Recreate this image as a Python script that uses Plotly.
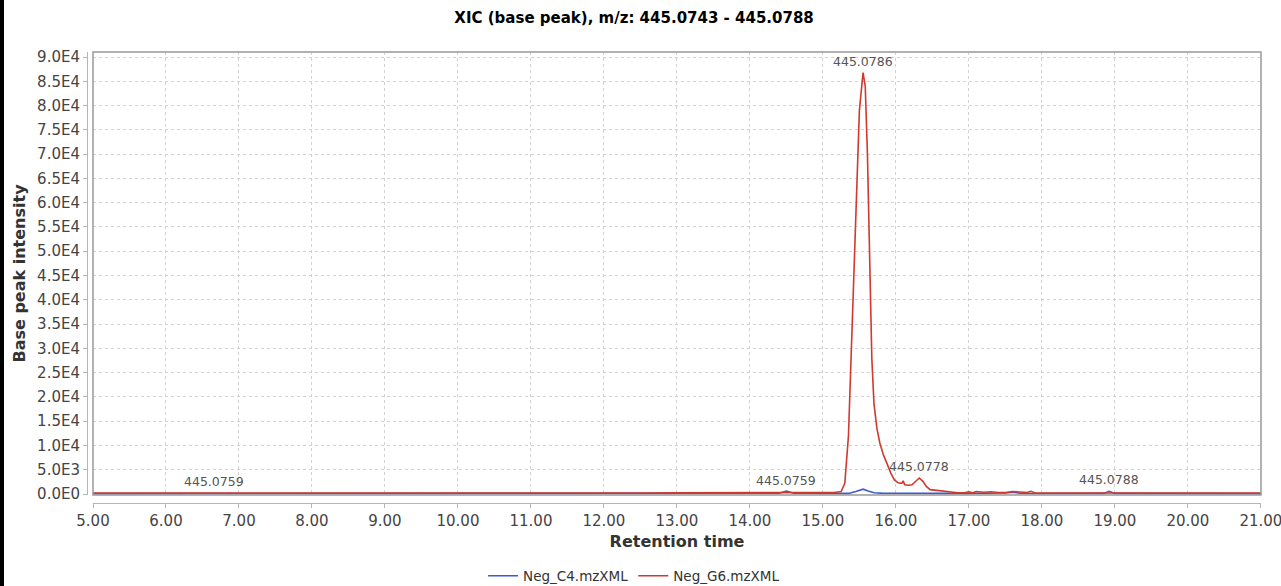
import plotly.graph_objects as go

# ---------------- data ----------------
g6_time = [5.0, 5.5, 6.0, 6.4, 6.66, 6.9, 7.5, 8.0, 9.0, 10.0, 11.0, 12.0, 12.5, 13.0, 13.5, 13.8,
           14.0, 14.3, 14.5, 14.7, 15.0, 15.15, 15.25, 15.30, 15.35, 15.40, 15.45, 15.50, 15.55,
           15.58, 15.61, 15.64, 15.67, 15.70, 15.74, 15.78, 15.83, 15.88, 15.93, 15.98, 16.03,
           16.08, 16.10, 16.12, 16.17, 16.22, 16.26, 16.32, 16.37, 16.42, 16.47, 16.55, 16.65,
           16.75, 16.85, 16.95, 17.0, 17.05, 17.1, 17.2, 17.3, 17.4, 17.5, 17.6, 17.7, 17.8,
           17.85, 17.9, 18.0, 18.5, 19.0, 19.1, 19.2, 20.0, 21.0]
g6_int = [180, 170, 190, 180, 250, 180, 175, 170, 190, 180, 190, 200, 210, 230, 260, 280,
          300, 320, 380, 330, 300, 320, 500, 2200, 12000, 35000, 60000, 79000, 86800,
          84000, 70000, 48000, 28000, 18500, 13500, 10500, 8000, 6200, 4300, 2900, 2300,
          2200, 2700, 1900, 1800, 1900, 2500, 3300, 2600, 1500, 900, 750, 650,
          500, 250, 300, 450, 250, 500, 350, 450, 300, 280, 500, 450, 300,
          550, 250, 220, 200, 240, 300, 210, 200, 200]

c4_time = [5.0, 7.0, 9.0, 11.0, 13.0, 13.5, 14.4, 14.5, 14.6, 15.0, 15.35, 15.45, 15.55, 15.62,
           15.7, 15.8, 16.0, 16.5, 17.0, 17.5, 17.6, 17.7, 18.0, 18.85, 18.92, 19.0, 20.0, 21.0]
c4_int = [80, 90, 80, 90, 100, 100, 150, 600, 150, 100, 120, 500, 1000, 600,
          250, 180, 150, 150, 120, 200, 350, 150, 100, 120, 550, 120, 90, 80]

label_x = [6.66, 14.5, 15.55, 16.32, 18.92]
label_y = [250, 380, 86800, 3300, 550]
label_text = ["445.0759", "445.0759", "445.0786", "445.0778", "445.0788"]

x_ticks = [5, 6, 7, 8, 9, 10, 11, 12, 13, 14, 15, 16, 17, 18, 19, 20, 21]
y_tick_vals = [0, 5000, 10000, 15000, 20000, 25000, 30000, 35000, 40000, 45000,
               50000, 55000, 60000, 65000, 70000, 75000, 80000, 85000, 90000]
y_tick_text = ["0.0E0", "5.0E3", "1.0E4", "1.5E4", "2.0E4", "2.5E4", "3.0E4", "3.5E4", "4.0E4",
               "4.5E4", "5.0E4", "5.5E4", "6.0E4", "6.5E4", "7.0E4", "7.5E4", "8.0E4", "8.5E4",
               "9.0E4"]

# ---------------- layout geometry ----------------
W, H = 1281, 586
ML, MR, MT, MB = 87, 20, 52, 83
PW = W - ML - MR
PH = H - MT - MB
dx = 6 / PW
dy = 8 / PH
x_range = [5, 21.002]
y_range = [-206, 91030]
FONT = "DejaVu Sans"

fig = go.Figure()
fig.add_trace(go.Scatter(x=c4_time, y=c4_int, mode="lines", name="Neg_C4.mzXML",
                         line=dict(color="#3a5ad8", width=1.6)))
fig.add_trace(go.Scatter(x=g6_time, y=g6_int, mode="lines", name="Neg_G6.mzXML",
                         line=dict(color="#d0392f", width=1.6)))
# empty trace so the offset (outer) axes get drawn
fig.add_trace(go.Scatter(x=[None], y=[None], xaxis="x2", yaxis="y2", mode="lines",
                         showlegend=False, hoverinfo="skip"))

for lx, ly, lt in zip(label_x, label_y, label_text):
    fig.add_annotation(x=lx, y=ly, text=lt, showarrow=False, yanchor="bottom", yshift=2,
                       font=dict(family=FONT, size=12.5, color="#555555"))

grid = dict(showgrid=True, gridcolor="#d2d2d2", griddash="dot", gridwidth=1,
            zeroline=False, showline=False, ticks="", showticklabels=False, automargin=False)
tickfont = dict(family=FONT, size=15, color="#444444")

fig.update_layout(
    width=W, height=H,
    margin=dict(l=ML, r=MR, t=MT, b=MB, autoexpand=False),
    paper_bgcolor="white", plot_bgcolor="white",
    title=dict(text="<b>XIC (base peak), m/z: 445.0743 - 445.0788</b>",
               x=0.495, xref="container", xanchor="center",
               y=1 - 18 / H, yref="container", yanchor="middle",
               font=dict(family=FONT, size=15, color="#000000")),
    xaxis=dict(domain=[dx, 1], range=x_range, anchor="y", tickvals=x_ticks, **grid),
    yaxis=dict(domain=[dy, 1], range=y_range, anchor="x", tickvals=y_tick_vals, **grid),
    xaxis2=dict(domain=[dx, 1], range=x_range, overlaying="x", anchor="free", position=0,
                showline=True, linecolor="#b5b5b5", linewidth=1, ticks="outside", ticklen=4,
                tickcolor="#b5b5b5", tickvals=x_ticks, ticktext=[f"{v:.2f}" for v in x_ticks],
                ticklabeloverflow="allow", automargin=False,
                showgrid=False, zeroline=False, tickfont=tickfont,
                title=dict(text="<b>Retention time</b>", standoff=6,
                           font=dict(family=FONT, size=16, color="#333333"))),
    yaxis2=dict(domain=[dy, 1], range=y_range, overlaying="y", anchor="free", position=0,
                showline=True, linecolor="#b5b5b5", linewidth=1, ticks="outside", ticklen=4,
                tickcolor="#b5b5b5", tickvals=y_tick_vals, ticktext=y_tick_text,
                automargin=False,
                showgrid=False, zeroline=False, tickfont=tickfont,
                title=dict(text="<b>Base peak intensity</b>", standoff=6,
                           font=dict(family=FONT, size=16, color="#333333"))),
    legend=dict(orientation="h", xref="container", x=0.495, xanchor="center",
                yref="container", y=1 - 576 / H, yanchor="middle",
                font=dict(family=FONT, size=13.5, color="#333333"),
                bgcolor="rgba(0,0,0,0)"),
    showlegend=True,
)

# plot frame around the data area
fig.add_shape(type="rect", xref="x domain", yref="y domain", x0=0, x1=1, y0=0, y1=1,
              line=dict(color="#999999", width=1.5), layer="above")
# black border on the left edge of the image
fig.add_shape(type="rect", xref="paper", yref="paper",
              x0=-ML / PW, x1=(4 - ML) / PW, y0=-MB / PH, y1=(H - MB) / PH,
              fillcolor="black", line=dict(width=0), layer="above")

fig.write_html("out.html")
